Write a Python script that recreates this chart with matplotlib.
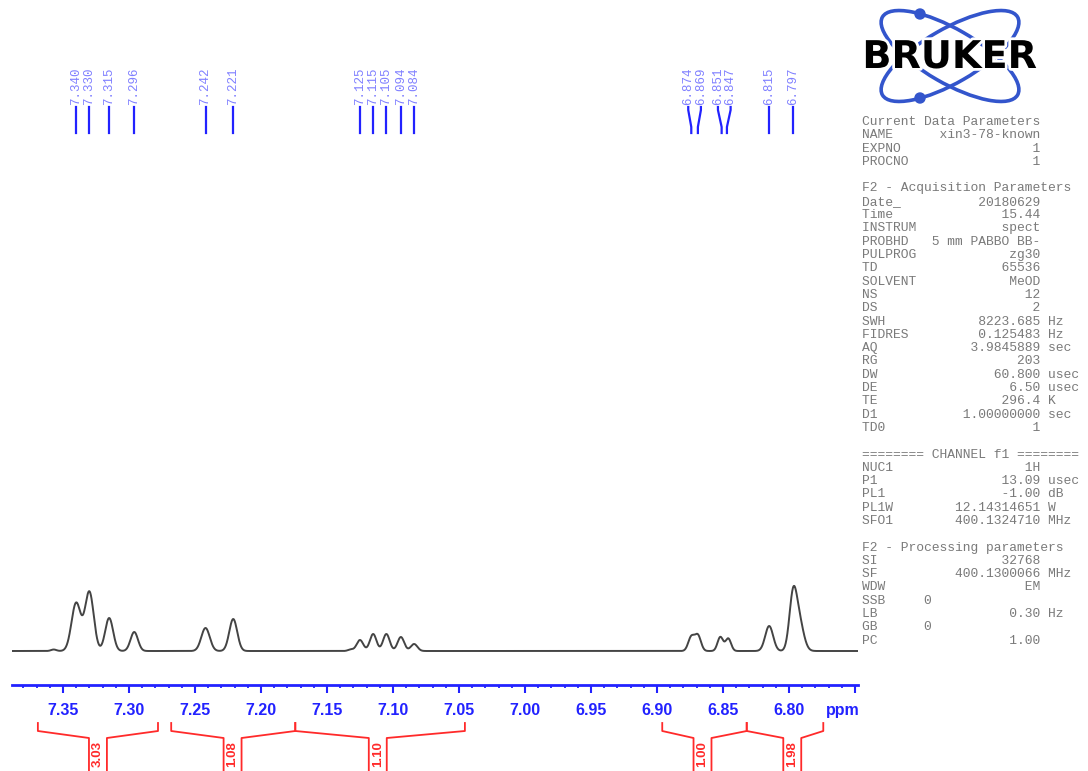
import numpy as np
import matplotlib
matplotlib.use("Agg")
import matplotlib.pyplot as plt
import matplotlib.transforms as mtransforms
from matplotlib.patches import Ellipse, Circle
import matplotlib.patheffects as pe

# peak list (ppm, height, width)
peak_ppm = [7.357, 7.340, 7.330, 7.315, 7.296, 7.242, 7.221,
            7.132, 7.125, 7.115, 7.105, 7.094, 7.084,
            6.874, 6.869, 6.852, 6.846, 6.815, 6.797, 6.7925]
peak_height = [1.5, 48, 59, 33, 19, 23, 32,
               1.5, 11, 17, 17, 14, 7,
               14, 15.5, 14, 12.5, 25, 50, 30]
peak_width = [0.002, 0.0035, 0.0033, 0.003, 0.0028, 0.0032, 0.003,
              0.002, 0.0025, 0.0025, 0.0025, 0.0025, 0.0025,
              0.0023, 0.0023, 0.0021, 0.0021, 0.003, 0.0028, 0.0035]

# labelled peaks
label_ppm = [7.340, 7.330, 7.315, 7.296, 7.242, 7.221,
             7.125, 7.115, 7.105, 7.094, 7.084,
             6.874, 6.869, 6.851, 6.847, 6.815, 6.797]

# integrals: start, end, label position, value
int_start = [7.369, 7.268, 7.174, 6.896, 6.832]
int_end = [7.278, 7.174, 7.0455, 6.832, 6.774]
int_label_pos = [7.3235, 7.2215, 7.1115, 6.8655, 6.7975]
int_values = ["3.03", "1.08", "1.10", "1.00", "1.98"]

ppm_left, ppm_right = 7.3886, 6.7477

params = [
    ("Current Data Parameters",),
    ("NAME", "xin3-78-known", ""),
    ("EXPNO", "1", ""),
    ("PROCNO", "1", ""),
    None,
    ("F2 - Acquisition Parameters",),
    ("Date_", "20180629", ""),
    ("Time", "15.44", ""),
    ("INSTRUM", "spect", ""),
    ("PROBHD", "5 mm PABBO BB-", ""),
    ("PULPROG", "zg30", ""),
    ("TD", "65536", ""),
    ("SOLVENT", "MeOD", ""),
    ("NS", "12", ""),
    ("DS", "2", ""),
    ("SWH", "8223.685", "Hz"),
    ("FIDRES", "0.125483", "Hz"),
    ("AQ", "3.9845889", "sec"),
    ("RG", "203", ""),
    ("DW", "60.800", "usec"),
    ("DE", "6.50", "usec"),
    ("TE", "296.4", "K"),
    ("D1", "1.00000000", "sec"),
    ("TD0", "1", ""),
    None,
    ("======== CHANNEL f1 ========",),
    ("NUC1", "1H", ""),
    ("P1", "13.09", "usec"),
    ("PL1", "-1.00", "dB"),
    ("PL1W", "12.14314651", "W"),
    ("SFO1", "400.1324710", "MHz"),
    None,
    ("F2 - Processing parameters",),
    ("SI", "32768", ""),
    ("SF", "400.1300066", "MHz"),
    ("WDW", "EM", ""),
    ("SSB", "0", "left"),
    ("LB", "0.30", "Hz"),
    ("GB", "0", "left"),
    ("PC", "1.00", ""),
]

W, H = 1088, 771
fig = plt.figure(figsize=(W / 100, H / 100), dpi=100)
blue = "#2222ff"
red = "#ff2a2a"

# spectrum axes, bottom spine is the ppm axis
ax = fig.add_axes([12 / W, (H - 685) / H, 846 / W, 145 / H])
x = np.linspace(ppm_left, ppm_right, 4000)
y = np.zeros_like(x)
for p, h, w in zip(peak_ppm, peak_height, peak_width):
    y += h * np.exp(-0.5 * ((x - p) / w) ** 2)
ax.plot(x, y, color="#444444", lw=1.4)
ax.set_xlim(ppm_left, ppm_right)
ax.set_ylim(-34, 111)
for s in ["top", "left", "right"]:
    ax.spines[s].set_visible(False)
ax.spines["bottom"].set_color(blue)
ax.spines["bottom"].set_linewidth(2)
ax.set_yticks([])
major = np.round(np.arange(6.75, 7.36, 0.05), 2)
minor = np.round(np.arange(6.75, 7.39, 0.01), 2)
ax.set_xticks(major)
ax.set_xticklabels([f"{v:.2f}" if v > 6.76 else "" for v in major])
ax.set_xticks(minor, minor=True)
ax.tick_params(axis="x", which="major", direction="out", length=6, width=1.5,
               color=blue, labelcolor=blue, pad=7, labelsize=11.5)
ax.tick_params(axis="x", which="minor", direction="out", length=2.5, width=1.3,
               color=blue)
for lab in ax.get_xticklabels():
    lab.set_fontweight("bold")
    lab.set_family("Liberation Sans")

trans = mtransforms.blended_transform_factory(ax.transData, fig.transFigure)


def fy(px):
    return 1 - px / H


ax.text(6.759, fy(710), "ppm", transform=trans, ha="center", va="center",
        color=blue, fontsize=11.5, fontweight="bold", family="Liberation Sans")

# peak labels, spread apart when too close
pos = list(label_ppm)
sep = 0.0096
for _ in range(50):
    for i in range(len(pos) - 1):
        gap = pos[i] - pos[i + 1]
        if gap < sep:
            d = (sep - gap) / 2
            pos[i] += d
            pos[i + 1] -= d
for p, lp in zip(label_ppm, pos):
    ax.plot([lp, lp, p, p], [fy(107), fy(110), fy(127), fy(133)], transform=trans,
            color=blue, lw=1.6, clip_on=False)
    ax.text(lp, fy(105), f"{p:.3f}", transform=trans, rotation=90, ha="center",
            va="bottom", color="#8080ff", fontsize=9, family="Liberation Mono")

# integral brackets
hw = 0.0068
for s, e, lp, v in zip(int_start, int_end, int_label_pos, int_values):
    ax.plot([s, s, lp + hw, lp + hw], [fy(723), fy(731), fy(738), fy(775)],
            transform=trans, color=red, lw=1.3, clip_on=False)
    ax.plot([lp - hw, lp - hw, e, e], [fy(775), fy(738), fy(731), fy(723)],
            transform=trans, color=red, lw=1.3, clip_on=False)
    ax.text(lp, fy(754), v, transform=trans, rotation=90, ha="center", va="center",
            color=red, fontsize=9.5, fontweight="bold", family="Liberation Sans")

# parameter block
for i, row in enumerate(params):
    if row is None:
        continue
    if len(row) == 1:
        line = row[0]
    elif row[2] == "left":
        line = f"{row[0]:<8}{row[1]}"
    else:
        line = f"{row[0]:<8}{row[1]:>15} {row[2]}".rstrip()
    fig.text(862 / W, fy(122 + 13.3 * i), line, ha="left", va="center",
             family="Liberation Mono", fontsize=9.4, color="#7a7a7a")

# logo
lax = fig.add_axes([855 / W, fy(110), 190 / W, 110 / H])
lax.set_xlim(855, 1045)
lax.set_ylim(110, 0)
lax.axis("off")
logo_blue = "#3355cc"
lax.add_patch(Ellipse((950, 56), 156, 54, angle=30, fill=False, ec=logo_blue, lw=2.6))
lax.add_patch(Ellipse((950, 56), 156, 54, angle=-30, fill=False, ec=logo_blue, lw=2.6))
lax.add_patch(Circle((920, 14), 5, color=logo_blue))
lax.add_patch(Circle((920, 98), 5, color=logo_blue))
lax.text(950, 58, "BRUKER", ha="center", va="center", fontsize=27.5, fontweight="bold",
         family="DejaVu Sans", color="black",
         path_effects=[pe.withStroke(linewidth=4, foreground="white")])

fig.savefig("out.png", dpi=100)
